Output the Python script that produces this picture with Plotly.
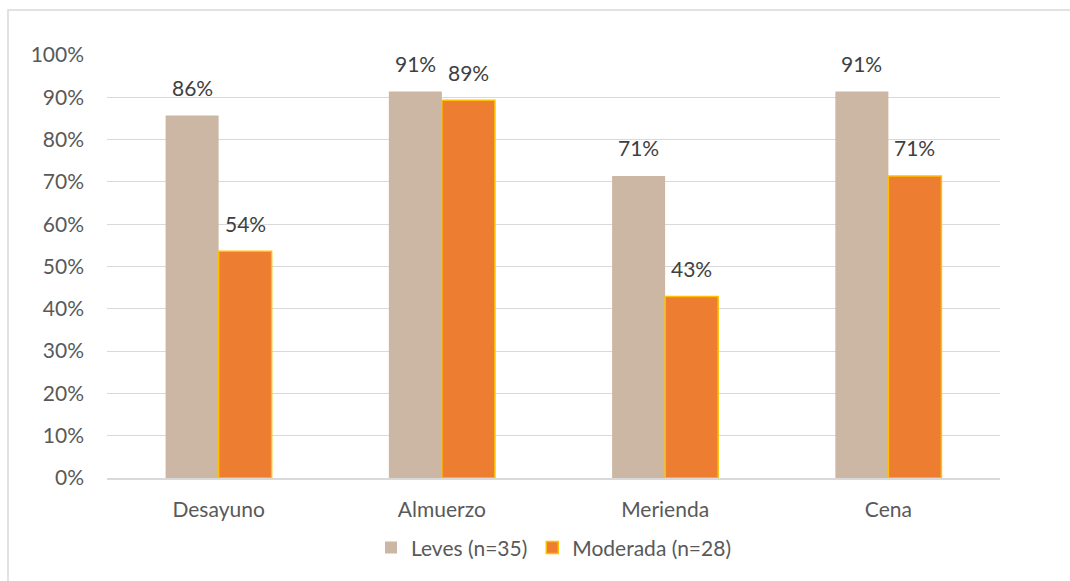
import plotly.graph_objects as go

categories = ["Desayuno", "Almuerzo", "Merienda", "Cena"]
leves = [85.7, 91.4, 71.4, 91.4]
moderada = [53.6, 89.3, 42.9, 71.4]
leves_name = "Leves (n=35)"
moderada_name = "Moderada (n=28)"
y_ticks = [0, 10, 20, 30, 40, 50, 60, 70, 80, 90, 100]
y_ticklabels = [f"{v}%" for v in y_ticks]

FONT = "Lato"
FS = 21
GRID = "#D9D9D9"

fig = go.Figure()
fig.add_trace(go.Bar(x=categories, y=leves, name=leves_name,
                     marker=dict(color="#CCB7A4", line=dict(width=0))))
fig.add_trace(go.Bar(x=categories, y=moderada, name=moderada_name,
                     marker=dict(color="#ED7D31", line=dict(color="#FFC000", width=1.5))))

# data labels
annotations = []
for i, c in enumerate(categories):
    for vals, xs in ((leves, -26.5), (moderada, 26.5)):
        annotations.append(dict(x=c, y=vals[i], xref="x", yref="y",
                                text=f"{round(vals[i])}%", showarrow=False,
                                xshift=xs, yshift=28, yanchor="middle",
                                font=dict(family=FONT, size=FS, color="#404040")))

fig.update_layout(
    width=1070, height=581,
    margin=dict(l=107, r=70, t=55, b=103),
    paper_bgcolor="white", plot_bgcolor="white",
    barmode="group", bargap=0.525, bargroupgap=0,
    font=dict(family=FONT, size=FS, color="#595959"),
    legend=dict(orientation="h", x=0.5, xanchor="center", y=-0.165, yanchor="middle",
                font=dict(family=FONT, size=FS, color="#595959"),
                itemwidth=30, traceorder="normal"),
    annotations=annotations,
    shapes=[dict(type="rect", xref="paper", yref="paper",
                 x0=(8 - 107) / 893, x1=1.2, y0=-0.4, y1=(478 - 10) / 423,
                 line=dict(color=GRID, width=1.5), fillcolor="rgba(0,0,0,0)", layer="below")],
)
fig.update_yaxes(range=[0, 100], tickvals=y_ticks, ticktext=y_ticklabels,
                 showgrid=True, gridcolor=GRID, gridwidth=1, zeroline=False,
                 showline=False, ticks="", ticklabelstandoff=22,
                 tickfont=dict(family=FONT, size=FS, color="#595959"))
fig.update_xaxes(showgrid=False, showline=True, linecolor=GRID, linewidth=1.5,
                 ticks="", ticklabelstandoff=12,
                 tickfont=dict(family=FONT, size=FS, color="#595959"))

fig.write_html("out.html")
